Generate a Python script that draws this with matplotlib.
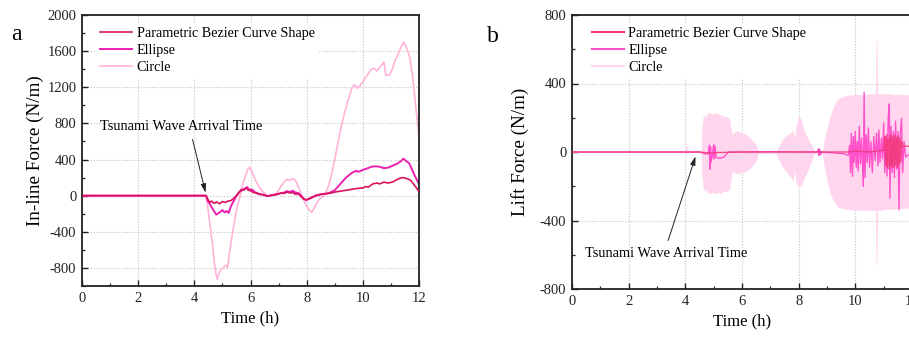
import matplotlib
matplotlib.use("Agg")
import matplotlib.pyplot as plt
import numpy as np

plt.rcParams['font.family'] = ['Liberation Serif', 'DejaVu Serif']
plt.rcParams['axes.unicode_minus'] = False

# ---------------- (a) in-line force ----------------
inline_bezier = [
    (0, 0), (4.42, 0), (4.48, -40), (4.55, -75), (4.62, -60), (4.7, -85), (4.8, -70),
    (4.9, -90), (5.0, -65), (5.1, -75), (5.2, -60), (5.3, -55), (5.4, -30), (5.5, 0),
    (5.6, 40), (5.68, 70), (5.75, 60), (5.85, 85), (5.92, 60), (6.0, 55), (6.1, 35),
    (6.2, 30), (6.3, 15), (6.45, 10), (6.6, -5), (6.75, 5), (6.9, 15), (7.0, 20),
    (7.1, 30), (7.2, 25), (7.3, 40), (7.4, 30), (7.5, 35), (7.6, 15), (7.7, 20),
    (7.8, -10), (7.9, -40), (8.0, -45), (8.1, -35), (8.2, -20), (8.3, -5), (8.45, 10),
    (8.6, 20), (8.8, 25), (9.0, 40), (9.2, 50), (9.4, 60), (9.6, 70), (9.8, 80),
    (10.0, 85), (10.1, 100), (10.2, 95), (10.35, 130), (10.5, 140), (10.6, 130),
    (10.75, 150), (10.9, 140), (11.05, 150), (11.2, 175), (11.3, 190), (11.4, 200),
    (11.5, 195), (11.6, 185), (11.7, 170), (11.8, 130), (11.9, 90), (12.0, 45),
]
inline_ellipse = [
    (0, 0), (4.42, 0), (4.48, -60), (4.55, -90), (4.62, -130), (4.7, -170), (4.78, -210),
    (4.85, -195), (4.92, -180), (5.0, -160), (5.08, -185), (5.15, -170), (5.22, -190),
    (5.3, -120), (5.4, -60), (5.5, 0), (5.6, 40), (5.7, 60), (5.8, 80), (5.88, 95),
    (5.95, 65), (6.05, 70), (6.15, 40), (6.3, 20), (6.45, 10), (6.6, -5), (6.75, 5),
    (6.9, 10), (7.05, 25), (7.2, 35), (7.3, 50), (7.4, 40), (7.5, 55), (7.6, 35),
    (7.7, 30), (7.8, 0), (7.9, -35), (8.0, -50), (8.1, -30), (8.2, -15), (8.35, 5),
    (8.5, 15), (8.65, 20), (8.8, 30), (9.0, 60), (9.2, 130), (9.4, 200), (9.6, 250),
    (9.75, 275), (9.85, 265), (10.0, 285), (10.15, 300), (10.3, 320), (10.45, 325),
    (10.6, 320), (10.75, 305), (10.9, 310), (11.05, 330), (11.2, 350), (11.35, 380),
    (11.45, 410), (11.55, 380), (11.65, 360), (11.75, 290), (11.85, 220), (11.95, 160),
    (12.0, 130),
]
inline_circle = [
    (0, 0), (4.4, 0), (4.45, -60), (4.55, -300), (4.65, -550), (4.72, -760), (4.78, -880),
    (4.82, -925), (4.88, -860), (4.95, -820), (5.05, -790), (5.12, -770), (5.18, -795),
    (5.25, -640), (5.35, -430), (5.45, -250), (5.55, -90), (5.63, 0), (5.72, 120),
    (5.82, 220), (5.9, 290), (5.97, 315), (6.05, 260), (6.15, 190), (6.3, 100),
    (6.45, 40), (6.6, 0), (6.7, -10), (6.8, 10), (6.9, 20), (7.0, 60), (7.1, 110),
    (7.2, 150), (7.3, 180), (7.4, 170), (7.5, 190), (7.6, 170), (7.7, 100), (7.8, 30),
    (7.9, -50), (8.0, -120), (8.1, -160), (8.18, -185), (8.28, -130), (8.4, -60),
    (8.52, -20), (8.62, 0), (8.75, 80), (8.9, 250), (9.05, 480), (9.2, 720),
    (9.35, 920), (9.5, 1080), (9.62, 1200), (9.7, 1230), (9.78, 1190), (9.88, 1210),
    (10.0, 1260), (10.15, 1330), (10.3, 1400), (10.4, 1410), (10.5, 1380), (10.6, 1420),
    (10.7, 1460), (10.75, 1480), (10.82, 1330), (10.95, 1340), (11.05, 1400),
    (11.15, 1500), (11.25, 1560), (11.35, 1640), (11.45, 1700), (11.52, 1660),
    (11.6, 1600), (11.68, 1520), (11.78, 1300), (11.88, 1000), (12.0, 660),
]

# ---------------- (b) lift force ----------------
# envelope of the rapidly oscillating circle signal: (t, upper, lower)
lift_circle_env = [
    (0, 0, 0), (4.0, 1, -1), (4.05, 40, -10), (4.1, 1, -1), (4.57, 1, -1),
    (4.6, 150, -150), (4.65, 215, -225), (4.72, 195, -210), (4.78, 225, -235),
    (4.85, 230, -240), (4.95, 218, -232), (5.05, 228, -242), (5.15, 220, -236),
    (5.25, 214, -240), (5.35, 208, -226), (5.45, 205, -228), (5.55, 195, -220),
    (5.62, 120, -140), (5.66, 90, -100), (5.72, 115, -118), (5.8, 120, -122),
    (5.9, 118, -125), (6.0, 110, -120), (6.1, 105, -112), (6.2, 95, -104),
    (6.3, 80, -90), (6.4, 60, -70), (6.5, 40, -50), (6.56, 8, -8), (7.2, 6, -6),
    (7.3, 30, -40), (7.4, 60, -75), (7.5, 85, -100), (7.6, 100, -120),
    (7.7, 110, -140), (7.8, 125, -165), (7.85, 60, -80), (7.92, 150, -180),
    (8.0, 205, -200), (8.08, 190, -195), (8.15, 140, -170), (8.25, 100, -130),
    (8.35, 70, -95), (8.45, 40, -50), (8.55, 6, -6), (8.85, 6, -6), (8.9, 60, -70),
    (9.0, 130, -160), (9.1, 200, -230), (9.2, 250, -270), (9.3, 285, -300),
    (9.4, 310, -320), (9.6, 325, -330), (9.8, 330, -335), (10.0, 335, -338),
    (10.2, 332, -336), (10.4, 336, -338), (10.6, 338, -340), (10.72, 340, -340),
    (10.75, 658, -658), (10.78, 340, -340), (11.0, 336, -336), (11.2, 338, -332),
    (11.4, 334, -330), (11.6, 336, -328), (11.8, 332, -326), (12.0, 330, -322),
]
lift_ellipse = [
    (0, 0), (4.5, 0), (4.6, -5), (4.7, -10), (4.8, -12), (4.85, 40), (4.87, -100),
    (4.89, 30), (4.91, -60), (4.95, -20), (5.0, 42), (5.02, -40), (5.05, 35),
    (5.08, -30), (5.15, -35), (5.25, -36), (5.35, -30), (5.45, -15), (5.52, 0),
    (6.0, 0), (7.0, 2), (8.0, 0), (8.65, 0), (8.7, 18), (8.72, -20), (8.75, 15),
    (8.78, -15), (8.82, 0), (9.6, -10), (9.75, -20), (9.8, 40), (9.83, -120),
    (9.86, 110), (9.9, -143), (9.93, 90), (9.96, -60), (10.0, 120), (10.03, -90),
    (10.07, 60), (10.1, -110), (10.14, 150), (10.18, -70), (10.22, 80),
    (10.28, -201), (10.31, 349), (10.34, -150), (10.38, 100), (10.42, -60),
    (10.46, 140), (10.5, -90), (10.55, 60), (10.6, -120), (10.65, 90), (10.7, -50),
    (10.75, 110), (10.8, -80), (10.83, 129), (10.87, -60), (10.92, 80), (10.96, -40),
    (11.0, 170), (11.04, -120), (11.08, 90), (11.12, -140), (11.16, 200),
    (11.2, 281), (11.22, -269), (11.26, 150), (11.3, -120), (11.34, 120),
    (11.38, -150), (11.42, 180), (11.46, -100), (11.5, 120), (11.54, -337),
    (11.58, 90), (11.63, 197), (11.67, -120), (11.72, 60), (11.78, -30),
    (11.85, -20), (12.0, -10),
]
lift_bezier = [
    (0, 0), (4.5, 0), (4.8, -5), (5.2, -3), (6.0, 0), (9.7, 0), (10.0, 5), (10.5, 0),
    (11.0, 10), (11.04, 90), (11.07, -80), (11.1, 100), (11.13, -90), (11.16, 80),
    (11.19, -100), (11.22, 95), (11.25, -85), (11.28, 100), (11.31, -95),
    (11.34, 90), (11.37, -90), (11.4, 100), (11.43, -80), (11.46, 85),
    (11.49, -90), (11.52, 95), (11.55, -70), (11.58, 80), (11.61, -60),
    (11.64, 60), (11.68, 30), (11.8, 35), (12.0, 32),
]

xticks = [0, 2, 4, 6, 8, 10, 12]
inline_yticks = [-800, -400, 0, 400, 800, 1200, 1600, 2000]
lift_yticks = [-800, -400, 0, 400, 800]
labels = ['Parametric Bezier Curve Shape', 'Ellipse', 'Circle']
arrival_text = 'Tsunami Wave Arrival Time'

fig = plt.figure(figsize=(9.09, 3.38), dpi=100)
W, H = 909, 338


def style_axes(ax, yticks, ylim, yminor):
    ax.set_xlim(0, 12)
    ax.set_ylim(*ylim)
    ax.set_xticks(xticks)
    ax.set_xticks(np.arange(1, 12, 2), minor=True)
    ax.set_yticks(yticks)
    ax.set_yticks(yminor, minor=True)
    ax.tick_params(which='both', direction='in', top=False, right=False,
                   labelsize=10.5, pad=4, colors='#222222')
    ax.tick_params(which='major', length=4, width=1.0)
    ax.tick_params(which='minor', length=2.5, width=0.9)
    for s in ax.spines.values():
        s.set_linewidth(1.3)
        s.set_color('#222222')
    ax.grid(True, which='major', color='#c4c4c4', linestyle=(0, (1, 1.5)), linewidth=0.8)
    ax.set_axisbelow(True)
    ax.set_xlabel('Time (h)', fontsize=12, labelpad=4)


def add_legend(ax, handles, x0, y0):
    leg = ax.legend(handles, labels, loc='upper left', bbox_to_anchor=(x0, y0),
                    fontsize=10.2, handlelength=2.3, handletextpad=0.3,
                    labelspacing=0.28, frameon=True, framealpha=1,
                    facecolor='white', edgecolor='none', borderpad=0.3,
                    borderaxespad=0)
    leg.get_frame().set_linewidth(0)
    return leg


# panel a
ax1 = fig.add_axes([82 / W, 1 - 286 / H, 337 / W, 271 / H])
cols_a = ['#d9135f', '#ec1fb0', '#ffb3d8']
handles_a = []
for data, c, lw, z in zip([inline_bezier, inline_ellipse, inline_circle], cols_a,
                          [1.2, 1.4, 1.2], [3, 2.5, 2]):
    t, v = zip(*data)
    handles_a += ax1.plot(t, v, color=c, lw=lw, zorder=z)
style_axes(ax1, inline_yticks, (-1000, 2000), np.arange(-1000, 2001, 200))
ax1.set_ylabel('In-line Force (N/m)', fontsize=13.8, labelpad=2.5)
add_legend(ax1, handles_a, 0.04, 0.971)
ax1.annotate(arrival_text, xy=(4.4, 33), xytext=(0.64, 770), fontsize=10.4,
             va='center', ha='left',
             arrowprops=dict(arrowstyle='-|>,head_length=0.5,head_width=0.15',
                             color='#222222', lw=0.7,
                             relpos=(0.56, 0.0), shrinkA=3, shrinkB=0))
fig.text(16 / W, 1 - 35 / H, 'a', fontsize=17, ha='center', va='center')

# panel b (right end runs off the figure edge)
ax2 = fig.add_axes([572 / W, 1 - 289 / H, 340 / W, 274 / H])
cols_b = ['#f03878', '#ff52cb', '#ffd6ed']
te, up, lo = zip(*lift_circle_env)
ax2.fill_between(te, lo, up, color=cols_b[2], lw=0.4, zorder=1.5)
t, v = zip(*lift_ellipse)
ax2.plot(t, v, color=cols_b[1], lw=1.0, zorder=2.5)
t, v = zip(*lift_bezier)
ax2.plot(t, v, color=cols_b[0], lw=1.0, zorder=2.6, alpha=0.85)
handles_b = [plt.Line2D([], [], color=c, lw=1.5) for c in cols_b]
style_axes(ax2, lift_yticks, (-800, 800), np.arange(-800, 801, 200))
ax2.set_ylabel('Lift Force (N/m)', fontsize=13.8, labelpad=8)
add_legend(ax2, handles_b, 0.045, 0.971)
ax2.annotate(arrival_text, xy=(4.36, -26), xytext=(0.45, -594), fontsize=10.4,
             va='center', ha='left',
             arrowprops=dict(arrowstyle='-|>,head_length=0.5,head_width=0.15',
                             color='#222222', lw=0.7,
                             relpos=(0.5, 1.0), shrinkA=3, shrinkB=0))
fig.text(493 / W, 1 - 36 / H, 'b', fontsize=17, ha='center', va='center')

fig.savefig('out.png', dpi=100)
